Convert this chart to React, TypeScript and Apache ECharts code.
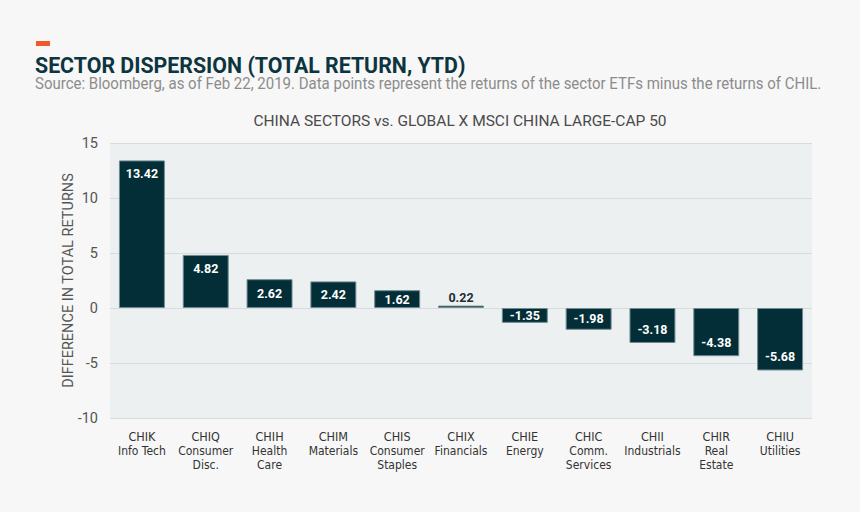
import React, { useEffect, useRef } from "react";
import * as echarts from "echarts";

const tickers = ["CHIK", "CHIQ", "CHIH", "CHIM", "CHIS", "CHIX", "CHIE", "CHIC", "CHII", "CHIR", "CHIU"];
const sectorNames = [
  "Info Tech",
  "Consumer\nDisc.",
  "Health\nCare",
  "Materials",
  "Consumer\nStaples",
  "Financials",
  "Energy",
  "Comm.\nServices",
  "Industrials",
  "Real\nEstate",
  "Utilities",
];
const values = [13.42, 4.82, 2.62, 2.42, 1.62, 0.22, -1.35, -1.98, -3.18, -4.38, -5.68];

const FONT = "'DejaVu Sans Condensed', Roboto, sans-serif";
const RB = "Roboto, sans-serif";

export default function App() {
  const ref = useRef<HTMLDivElement>(null);
  useEffect(() => {
    if (!ref.current) return;
    const chart = echarts.init(ref.current, undefined, { renderer: "svg" });
    const categories = tickers.map((t, i) => t + "\n" + sectorNames[i]);
    chart.setOption({
      animation: false,
      backgroundColor: "#f7f7f7",
      textStyle: { fontFamily: RB },
      title: [
        {
          text: "CHINA SECTORS vs. GLOBAL X MSCI CHINA LARGE-CAP 50",
          left: 455,
          textAlign: "center",
          top: 108,
          textStyle: { fontFamily: RB, fontSize: 15.5, fontWeight: "normal", color: "#4a4a4a" },
        },
      ],
      graphic: [
        { type: "rect", shape: { x: 36, y: 41, width: 14, height: 5 }, style: { fill: "#f05a28" } },
        {
          type: "text",
          x: 35,
          y: 65,
          scaleX: 0.97,
          style: {
            text: "SECTOR DISPERSION (TOTAL RETURN, YTD)",
            fontFamily: RB,
            fontSize: 22,
            fontWeight: "bold",
            fill: "#0d3540",
            verticalAlign: "middle",
          },
        },
        {
          type: "text",
          x: 35,
          y: 84,
          scaleX: 0.938,
          style: {
            text: "Source: Bloomberg, as of Feb 22, 2019. Data points represent the returns of the sector ETFs minus the returns of CHIL.",
            fontFamily: RB,
            fontSize: 16,
            fill: "#8c8c8c",
            verticalAlign: "middle",
          },
        },
      ],
      grid: { left: 110, right: 48, top: 143, bottom: 94, show: true, backgroundColor: "#edf0f1", borderWidth: 0 },
      xAxis: {
        type: "category",
        data: categories,
        axisLine: { show: false },
        axisTick: { show: false },
        axisLabel: {
          interval: 0,
          margin: 11,
          fontFamily: FONT,
          fontSize: 12,
          lineHeight: 14,
          color: "#333",
          formatter: (v: string) => {
            const parts = v.split("\n");
            return "{t|" + parts[0] + "}\n" + parts.slice(1).join("\n");
          },
          rich: { t: { fontFamily: FONT, fontSize: 12.5, color: "#333", lineHeight: 15 } },
        },
      },
      yAxis: {
        type: "value",
        min: -10,
        max: 15,
        interval: 5,
        name: "DIFFERENCE IN TOTAL RETURNS",
        nameLocation: "middle",
        nameGap: 34,
        nameMoveOverlap: false,
        nameTextStyle: { fontFamily: RB, fontSize: 14.5, color: "#555" },
        axisLine: { show: false },
        axisTick: { show: false },
        axisLabel: { fontFamily: RB, fontSize: 14.5, color: "#555", margin: 12 },
        splitLine: { lineStyle: { color: "#d6dbdd", width: 1 } },
      },
      series: [
        {
          type: "bar",
          barWidth: "72%",
          data: values.map((v) => {
            const small = Math.abs(v) < 0.5;
            const mid = Math.abs(v) < 3;
            return {
              value: v,
              label: {
                show: true,
                position: small ? "top" : mid ? "inside" : v >= 0 ? "insideTop" : "insideBottom",
                distance: small ? 2 : 7,
                color: small ? "#1d2d33" : "#ffffff",
              },
            };
          }),
          itemStyle: { color: "#032e37", borderColor: "#6f8a90", borderWidth: 1 },
          label: {
            fontFamily: RB,
            fontSize: 12.5,
            fontWeight: "bold",
            formatter: (p: any) => p.value.toFixed(2),
          },
        },
      ],
    });
    return () => chart.dispose();
  }, []);
  return <div ref={ref} style={{ position: "absolute", left: 0, top: 0, width: 860, height: 512 }} />;
}
